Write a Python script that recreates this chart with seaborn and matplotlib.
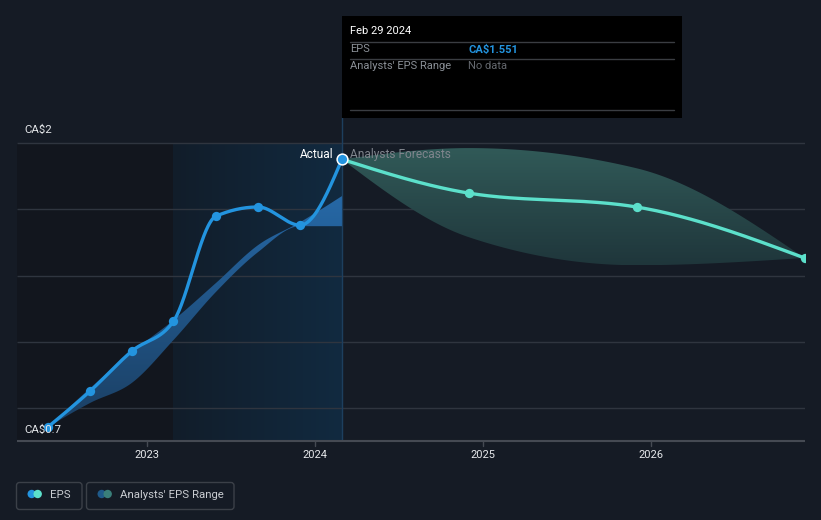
import numpy as np
import pandas as pd
import matplotlib
matplotlib.use("Agg")
import matplotlib.pyplot as plt
import matplotlib.dates as mdates
from matplotlib.patches import Rectangle, FancyBboxPatch, Circle, Polygon
from matplotlib.transforms import IdentityTransform
from matplotlib.colors import LinearSegmentedColormap
import seaborn as sns

# ---------------- data ----------------
actual_dates = ["2022-05-31", "2022-08-31", "2022-11-30", "2023-02-28",
                "2023-05-31", "2023-08-31", "2023-11-30", "2024-02-29"]
actual_eps = [0.742, 0.851, 0.972, 1.062, 1.379, 1.407, 1.352, 1.551]
past_range_high = [0.742, 0.860, 0.969, 1.065, 1.177, 1.292, 1.361, 1.440]
past_range_low = [0.742, 0.815, 0.876, 1.005, 1.150, 1.271, 1.349, 1.349]

forecast_dates = ["2024-02-29", "2024-11-30", "2025-11-30", "2026-11-30"]
forecast_eps = [1.551, 1.449, 1.407, 1.253]
forecast_high = [1.551, 1.585, 1.524, 1.253]
forecast_low = [1.551, 1.316, 1.231, 1.253]

x_tick_years = [2023, 2024, 2025, 2026]
y_label_top = "CA$2"
y_label_bottom = "CA$0.7"
grid_values = [0.8, 1.0, 1.2, 1.4, 1.6]
tooltip_date = "Feb 29 2024"
tooltip_eps = "CA$1.551"
tooltip_range = "No data"
legend_labels = ["EPS", "Analysts' EPS Range"]

# ---------------- style ----------------
W, H = 821, 520
BG = "#151b25"
DARK = "#12161e"
BLUE = "#2394df"
TEAL = "#5ce0cb"
GRID = "#2f353f"
AXIS = "#454a53"
FONT = ["Roboto", "DejaVu Sans"]

sns.set_theme(style="dark")
plt.rcParams["font.family"] = FONT
plt.rcParams["figure.facecolor"] = BG
plt.rcParams["axes.facecolor"] = BG


def to_num(ds):
    return mdates.date2num(pd.to_datetime(ds).to_pydatetime())


def monotone_curve(x, y, n=60):
    x = np.asarray(x, float)
    y = np.asarray(y, float)
    m = len(x)
    h = np.diff(x)
    s = np.diff(y) / h
    t = np.zeros(m)
    for i in range(1, m - 1):
        h0, h1 = h[i - 1], h[i]
        s0, s1 = s[i - 1], s[i]
        p = (s0 * h1 + s1 * h0) / (h0 + h1)
        t[i] = (np.sign(s0) + np.sign(s1)) * min(abs(s0), abs(s1), 0.5 * abs(p))
    if m > 2:
        t[0] = (3 * s[0] - t[1]) / 2
        t[-1] = (3 * s[-1] - t[-2]) / 2
    else:
        t[:] = s[0]
    xs, ys = [], []
    for i in range(m - 1):
        u = np.linspace(0, 1, n, endpoint=(i == m - 2))
        dx = h[i] / 3
        p0, p3 = y[i], y[i + 1]
        p1 = y[i] + dx * t[i]
        p2 = y[i + 1] - dx * t[i + 1]
        yy = (1 - u) ** 3 * p0 + 3 * (1 - u) ** 2 * u * p1 + 3 * (1 - u) * u ** 2 * p2 + u ** 3 * p3
        xs.append(x[i] + u * h[i])
        ys.append(yy)
    return np.concatenate(xs), np.concatenate(ys)


ax_x = to_num(actual_dates)
fx_x = to_num(forecast_dates)

fig = plt.figure(figsize=(W / 100, H / 100), dpi=100)
fig.patch.set_facecolor(BG)
ax = fig.add_axes([17 / W, 79 / H, 788 / W, 441 / H])
ax.set_facecolor(BG)

xmin = mdates.date2num(pd.Timestamp("2022-03-25").to_pydatetime())
xmax = mdates.date2num(pd.Timestamp("2026-12-01").to_pydatetime())
ymin = 0.7
ymax = 0.7 + 441 / 331.0
ytop = 1.6

# background regions
past_start = ax_x[3]
now_x = ax_x[-1]
ax.add_patch(Rectangle((xmin, ymin), past_start - xmin, ytop - ymin,
                       facecolor=DARK, edgecolor="none", zorder=0))
hl_cmap = LinearSegmentedColormap.from_list("hl", ["#111d2a", "#122a40"])
ax.imshow(np.linspace(0, 1, 256).reshape(1, -1), extent=[past_start, now_x, ymin, ytop],
          aspect="auto", cmap=hl_cmap, origin="lower", zorder=0.1, interpolation="bilinear")

# gridlines
for g in grid_values:
    ax.hlines(g, xmin, xmax, color=GRID, lw=1, zorder=1)
ax.hlines(ymin, xmin, xmax, color=AXIS, lw=1.5, zorder=5, clip_on=False)

# vertical "now" line
ax.vlines(now_x, ymin, 0.7 + (441 - 117) / 331.0, color="#1d3f5e", lw=1, zorder=1.5)

# historical analysts' range band (gradient)
bx, bhi = monotone_curve(ax_x, past_range_high)
_, blo = monotone_curve(ax_x, past_range_low)
band_poly = Polygon(np.column_stack([np.concatenate([bx, bx[::-1]]),
                                     np.concatenate([bhi, blo[::-1]])]),
                    closed=True, facecolor="none", edgecolor="none", transform=ax.transData)
ax.add_patch(band_poly)
b_cmap = LinearSegmentedColormap.from_list("bb", ["#1b3f63", "#2668a6"])
im1 = ax.imshow(np.linspace(0, 1, 256).reshape(-1, 1),
                extent=[bx.min(), bx.max(), min(past_range_low), max(past_range_high)],
                aspect="auto", cmap=b_cmap, origin="lower", zorder=2, interpolation="bilinear")
im1.set_clip_path(band_poly)

# forecast range band (gradient)
fx, fhi = monotone_curve(fx_x, forecast_high)
_, flo = monotone_curve(fx_x, forecast_low)
f_poly = Polygon(np.column_stack([np.concatenate([fx, fx[::-1]]),
                                  np.concatenate([fhi, flo[::-1]])]),
                 closed=True, facecolor="none", edgecolor="none", transform=ax.transData)
ax.add_patch(f_poly)
f_cmap = LinearSegmentedColormap.from_list("ff", ["#1f363b", "#315a58"])
im2 = ax.imshow(np.linspace(0, 1, 256).reshape(-1, 1),
                extent=[fx.min(), fx.max(), min(forecast_low), max(forecast_high)],
                aspect="auto", cmap=f_cmap, origin="lower", zorder=2, interpolation="bilinear")
im2.set_clip_path(f_poly)

# lines
lx, ly = monotone_curve(ax_x, actual_eps)
sns.lineplot(x=lx, y=ly, ax=ax, color=BLUE, lw=2.4, sort=False, estimator=None, zorder=3)
flx, fly = monotone_curve(fx_x, forecast_eps)
sns.lineplot(x=flx, y=fly, ax=ax, color=TEAL, lw=2.4, sort=False, estimator=None, zorder=3)

# markers
sns.scatterplot(x=ax_x[:-1], y=actual_eps[:-1], ax=ax, color=BLUE, s=45,
                linewidth=0, zorder=4)
sns.scatterplot(x=fx_x[1:], y=forecast_eps[1:], ax=ax, color=TEAL, s=45,
                linewidth=0, zorder=4)
sns.scatterplot(x=[ax_x[-1]], y=[actual_eps[-1]], ax=ax, color=BLUE, s=60,
                edgecolor="white", linewidth=1.1, zorder=5)

ax.set_xlim(xmin, xmax)
ax.set_ylim(ymin, ymax)
ax.set_xticks([])
ax.set_yticks([])
ax.set_xlabel("")
ax.set_ylabel("")
for sp in ax.spines.values():
    sp.set_visible(False)
if ax.get_legend():
    ax.get_legend().remove()

# x tick marks and labels
for yr in x_tick_years:
    xv = mdates.date2num(pd.Timestamp(f"{yr}-01-01").to_pydatetime())
    ax.plot([xv, xv], [ymin, ymin - 5 / 331.0], color=AXIS, lw=1, clip_on=False, zorder=5)
    ax.text(xv, ymin - 14 / 331.0, str(yr), ha="center", va="center",
            color="#e6e8eb", fontsize=8, clip_on=False)

# labels on chart
def fxp(px):
    return px / W


def fyp(py):
    return 1 - py / H


fig.text(fxp(24), fyp(130), y_label_top, ha="left", va="center", color="#e3e5e8", fontsize=8.2)
fig.text(fxp(24), fyp(430), y_label_bottom, ha="left", va="center", color="#e3e5e8", fontsize=8.2)
fig.text(fxp(334), fyp(154), "Actual", ha="right", va="center", color="#ffffff", fontsize=8.6)
fig.text(fxp(350), fyp(154), "Analysts Forecasts", ha="left", va="center", color="#80858d", fontsize=8.6)

# tooltip
ID = IdentityTransform()
fig.patches.append(Rectangle((342, H - 117.5), 340, 101.5, facecolor="#000000",
                             edgecolor="none", transform=ID, figure=fig, zorder=6))
for ly_ in [41.5, 58.5, 109.5]:
    fig.lines.append(plt.Line2D([350, 674], [H - ly_, H - ly_], color="#3a3d42", lw=1,
                                transform=ID, figure=fig, zorder=7))
fig.text(fxp(350), fyp(31), tooltip_date, ha="left", va="center", color="#ffffff",
         fontsize=8, zorder=8)
fig.text(fxp(350), fyp(49.5), "EPS", ha="left", va="center", color="#8b9097",
         fontsize=8, zorder=8)
fig.text(fxp(468), fyp(49.5), tooltip_eps, ha="left", va="center", color=BLUE,
         fontsize=8, fontweight="bold", zorder=8)
fig.text(fxp(350), fyp(66), "Analysts' EPS Range", ha="left", va="center", color="#8b9097",
         fontsize=8, zorder=8)
fig.text(fxp(468), fyp(66), tooltip_range, ha="left", va="center", color="#65696f",
         fontsize=8, zorder=8)

# legend
boxes = [(16.5, 82.0), (86.5, 234.0)]
for (x0, x1) in boxes:
    fig.patches.append(FancyBboxPatch((x0, H - 509.5), x1 - x0, 27,
                                      boxstyle="round,pad=0,rounding_size=3",
                                      facecolor=BG, edgecolor="#3b4048", lw=1,
                                      transform=ID, figure=fig, zorder=6))
dots = [(31.7, BLUE), (37.7, TEAL), (101.7, "#1f5a8a"), (107.7, "#3a7f7a")]
for cx, c in dots:
    fig.patches.append(Circle((cx, H - 494), 4.2, facecolor=c, edgecolor="none",
                              transform=ID, figure=fig, zorder=7))
fig.text(fxp(50), fyp(494.5), legend_labels[0], ha="left", va="center", color="#c9ccd1",
         fontsize=8.2, zorder=8)
fig.text(fxp(120), fyp(494.5), legend_labels[1], ha="left", va="center", color="#c9ccd1",
         fontsize=8.2, zorder=8)

fig.savefig("out.png", dpi=100, facecolor=BG)
